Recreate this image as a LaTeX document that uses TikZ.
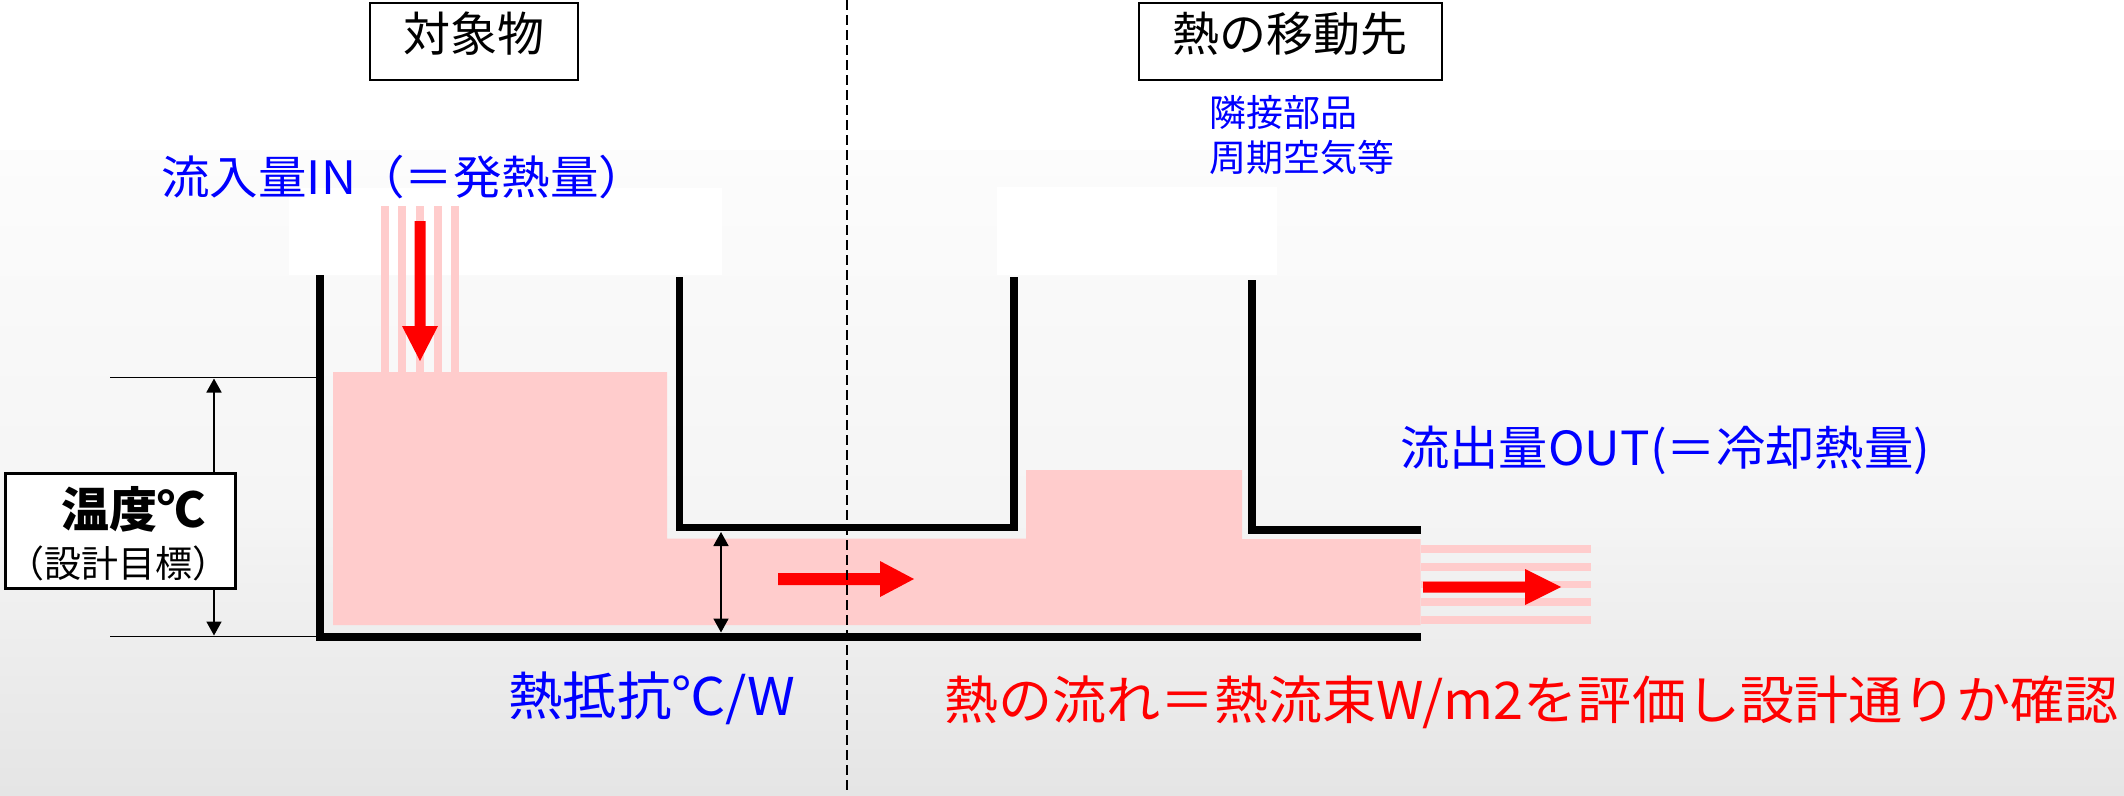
\documentclass[tikz,border=0pt]{standalone}
\usepackage{graphicx}
\usepackage{fontspec}
\setmainfont{Noto Sans CJK JP}
\usetikzlibrary{arrows.meta}
\definecolor{pinkf}{HTML}{FFCCCC}
\definecolor{bluet}{HTML}{0000FF}
\definecolor{redt}{HTML}{FF0000}
\newcommand\fsz[1]{\fontsize{#1}{#1}\selectfont}
\begin{document}
\begin{tikzpicture}[x=1pt,y=-1pt,
  wall/.style={line width=7.5pt, line join=miter},
  dimline/.style={line width=1.8pt, {Triangle[width=15pt,length=14pt]}-{Triangle[width=15pt,length=14pt]}},
  extline/.style={line width=1.8pt},
  titlebox/.style={draw=black, line width=2pt, fill=white, minimum width=208pt, minimum height=77pt, inner sep=0pt},
  bluelab/.style={inner sep=0pt, text=bluet},
  blacklab/.style={inner sep=0pt, text=black},
  redlab/.style={inner sep=0pt, text=redt}
]
\useasboundingbox (0,0) rectangle (2124,795);
% background
\fill[white] (0,0) rectangle (2124,795);
\shade[top color={rgb,255:red,252;green,252;blue,252}, bottom color={rgb,255:red,245;green,245;blue,245}] (0,150) rectangle (2124,501);
\shade[top color={rgb,255:red,245;green,245;blue,245}, bottom color={rgb,255:red,229;green,229;blue,229}] (0,500) rectangle (2124,795);
\fill[white] (289,188) rectangle (722,275);
\fill[white] (997,187) rectangle (1277,275);
% pink heat body
\fill[pinkf] (333,372) -- (667,372) -- (667,538.5) -- (1026,538.5) -- (1026,470) -- (1242,470) -- (1242,539) -- (1420.5,539) -- (1420.5,625) -- (333,625) -- cycle;
\foreach \c in {384.8,402.4,420,437.7,455.3} {\fill[pinkf] (\c-4,206) rectangle (\c+4,372);}
\foreach \c in {549,566.8,584.5,602.2,619.7} {\fill[pinkf] (1421,\c-3.9) rectangle (1591,\c+3.9);}
% red arrows
\fill[redt] (414.5,221) -- (425.5,221) -- (425.5,326) -- (438,326) -- (420,361) -- (402,326) -- (414.5,326) -- cycle;
\fill[redt] (778,573) -- (880,573) -- (880,561) -- (914,579) -- (880,597) -- (880,585) -- (778,585) -- cycle;
\fill[redt] (1423,581.5) -- (1525,581.5) -- (1525,569) -- (1561,587) -- (1525,605) -- (1525,592.5) -- (1423,592.5) -- cycle;
% walls
\draw[wall] (320,275) -- (320,637) -- (1420.5,637);
\draw[wall] (679.5,277) -- (679.5,527.5) -- (1014,527.5) -- (1014,277);
\draw[wall] (1252,280) -- (1252,530) -- (1420.5,530);
% temperature dimension
\coordinate (E1a) at (110,377.5); \coordinate (E1b) at (317,377.5);
\coordinate (E2a) at (110,636.5); \coordinate (E2b) at (317,636.5);
\draw[extline] (E1a) -- (E1b);
\draw[extline] (E2a) -- (E2b);
\coordinate (T1) at (214,378.5); \coordinate (T2) at (214,635.5);
\draw[dimline] (T1) -- (T2);
\node[draw=black, line width=2.5pt, fill=white, minimum width=230pt, minimum height=115pt, inner sep=0pt] (tbox) at (120.5,531) {};
\node[blacklab, font=\fsz{48}\bfseries] (tlab) at (133.5,509) {温度℃};
\node[blacklab, font=\fsz{37}] (tsub) at (118,563) {（設計目標）};
% thermal resistance dimension
\coordinate (R1) at (721,532); \coordinate (R2) at (721,632.5);
\draw[dimline] (R1) -- (R2);
% title boxes
\node[titlebox] (box1) at (474,41.5) {};
\node[blacklab, font=\fsz{47}] (box1t) at (474,34) {対象物};
\node[titlebox, minimum width=303pt] (box2) at (1290.5,41.5) {};
\node[blacklab, font=\fsz{47}] (box2t) at (1290,34) {熱の移動先};
% labels
\node[bluelab, font=\fsz{37}, anchor=west] (adj1) at (1209,112.5) {隣接部品};
\node[bluelab, font=\fsz{37}, anchor=west] (adj2) at (1209,157.5) {周期空気等};
\node[bluelab, font=\fsz{46}, anchor=west] (inlab) at (161,177) {\scalebox{1.055}[1]{流入量IN（＝発熱量）}};
\node[bluelab, font=\fsz{47}, anchor=west] (outlab) at (1400,450) {\scalebox{1.05}[1]{流出量OUT(＝冷却熱量)}};
\node[bluelab, font=\fsz{52}, anchor=west] (reslab) at (508,698) {\scalebox{1.047}[1]{熱抵抗℃/W}};
\node[redlab, font=\fsz{52}, anchor=west] (flowlab) at (944,702) {\scalebox{1.04}[1]{熱の流れ＝熱流束W/m2を評価し設計通りか確認}};
% divider
\coordinate (D1) at (847,0); \coordinate (D2) at (847,790);
\draw[line width=1.5pt, dash pattern=on 10pt off 5pt] (D1) -- (D2);
\end{tikzpicture}
\end{document}
